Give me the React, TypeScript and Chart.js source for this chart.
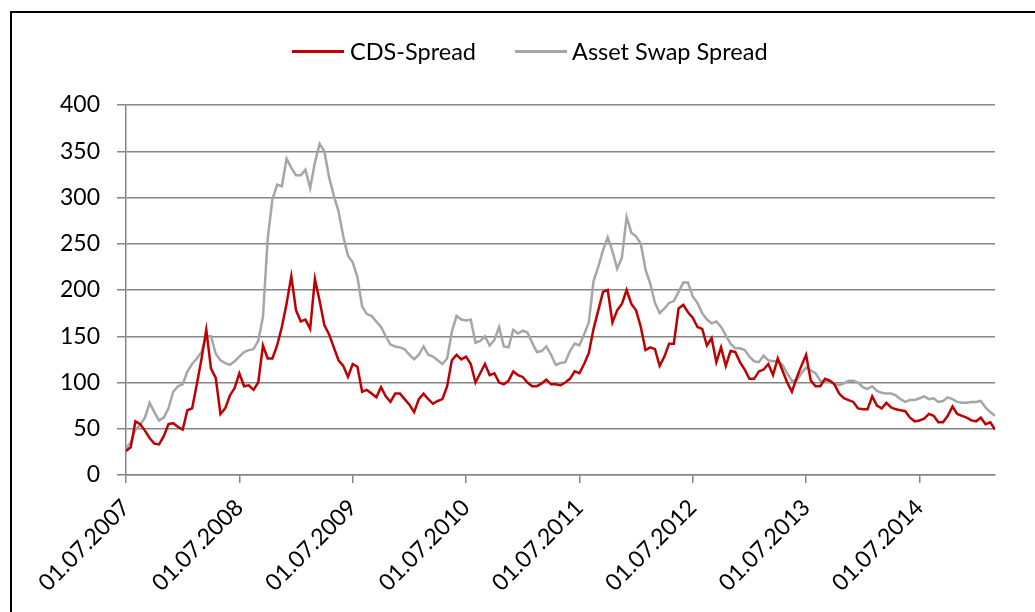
import React, { useEffect, useRef } from "react";
import { Chart, registerables } from "chart.js";

Chart.register(...registerables);

// Series names and colours
const seriesNames = ["CDS-Spread", "Asset Swap Spread"];
const seriesColors = ["#C00000", "#A6A6A6"];

// X-axis tick labels (one per year, at 01.07.)
const yearTickLabels = [
  "01.07.2007",
  "01.07.2008",
  "01.07.2009",
  "01.07.2010",
  "01.07.2011",
  "01.07.2012",
  "01.07.2013",
  "01.07.2014",
];

// Observations are semi-monthly (1st and 16th), starting 01.07.2007
const observationsPerYear = 24;

// CDS spread (bp), semi-monthly from 01.07.2007
const cdsSpread = [
  26, 30, 58, 55, 48, 40, 34, 33, 42, 55, 56, 52,
  49, 70, 72, 98, 126, 157, 115, 105, 66, 72, 86, 94,
  110, 96, 97, 92, 100, 140, 126, 126, 140, 160, 185, 215,
  178, 166, 168, 158, 212, 188, 162, 152, 138, 124, 118, 106,
  120, 117, 90, 92, 88, 84, 95, 85, 79, 88, 88, 82,
  76, 68, 82, 88, 82, 77, 80, 82, 96, 124, 130, 125,
  128, 120, 100, 110, 120, 108, 110, 100, 98, 102, 112, 108,
  106, 100, 96, 96, 99, 103, 98, 98, 97, 100, 104, 112,
  110, 120, 132, 158, 178, 198, 200, 165, 178, 185, 200, 185,
  178, 160, 135, 138, 136, 118, 128, 142, 142, 180, 184, 176,
  170, 160, 158, 140, 148, 122, 138, 118, 134, 133, 122, 114,
  104, 104, 112, 114, 120, 108, 126, 113, 100, 90, 105, 118,
  130, 102, 96, 96, 104, 102, 98, 88, 83, 81, 79, 72,
  71, 71, 85, 75, 72, 78, 73, 71, 70, 69, 62, 58,
  59, 61, 66, 64, 57, 57, 64, 74, 66, 64, 62, 59,
  58, 62, 55, 57, 49,
];

// Asset swap spread (bp), semi-monthly from 01.07.2007
const assetSwapSpread = [
  29, 35, 49, 54, 62, 78, 68, 59, 62, 72, 90, 96,
  98, 112, 120, 126, 133, 150, 150, 131, 124, 121, 119, 123,
  128, 133, 135, 136, 145, 171, 255, 298, 314, 312, 342, 332,
  324, 324, 330, 310, 338, 358, 350, 322, 302, 285, 258, 237,
  230, 214, 182, 174, 172, 166, 160, 150, 141, 139, 138, 136,
  130, 125, 130, 139, 130, 128, 124, 120, 126, 155, 172, 168,
  167, 168, 143, 145, 150, 140, 146, 160, 139, 138, 157, 153,
  156, 154, 143, 133, 134, 139, 130, 119, 121, 122, 134, 142,
  140, 152, 165, 210, 225, 243, 257, 242, 223, 235, 279, 262,
  258, 250, 222, 207, 186, 175, 180, 186, 188, 198, 208, 208,
  193, 186, 175, 168, 164, 166, 160, 151, 142, 137, 137, 135,
  128, 123, 122, 129, 124, 123, 123, 119, 110, 102, 102, 110,
  116, 113, 110, 102, 101, 101, 99, 97, 99, 102, 102, 100,
  95, 93, 96, 91, 89, 88, 88, 86, 82, 79, 81, 81,
  83, 85, 82, 83, 79, 80, 84, 82, 79, 78, 78, 79,
  79, 80, 73, 68, 64,
];

// Y-axis range
const yMin = 0;
const yMax = 400;
const yStep = 50;

const FONT = "Lato, 'Open Sans', sans-serif";
const GRID = "#858585";

export default function App() {
  const canvasRef = useRef<HTMLCanvasElement | null>(null);

  useEffect(() => {
    if (!canvasRef.current) return;
    const toPoints = (arr: number[]) => arr.map((v, i) => ({ x: i, y: v }));
    const chart = new Chart(canvasRef.current, {
      type: "line",
      data: {
        datasets: [
          {
            label: seriesNames[0],
            data: toPoints(cdsSpread),
            borderColor: seriesColors[0],
            backgroundColor: seriesColors[0],
            borderWidth: 2.5,
            pointRadius: 0,
            tension: 0,
          },
          {
            label: seriesNames[1],
            data: toPoints(assetSwapSpread),
            borderColor: seriesColors[1],
            backgroundColor: seriesColors[1],
            borderWidth: 2.5,
            pointRadius: 0,
            tension: 0,
          },
        ],
      },
      options: {
        animation: false,
        responsive: false,
        devicePixelRatio: 1,
        layout: { padding: { left: 0, right: 40, top: 105, bottom: 0 } },
        plugins: {
          legend: { display: false },
          tooltip: { enabled: false },
        },
        scales: {
          x: {
            type: "linear",
            min: 0,
            max: cdsSpread.length - 1,
            afterBuildTicks: (scale: any) => {
              scale.ticks = yearTickLabels.map((_, i) => ({ value: i * observationsPerYear }));
            },
            afterFit: (scale: any) => {
              scale.height = 137;
            },
            ticks: {
              autoSkip: false,
              minRotation: 45,
              maxRotation: 45,
              color: "#000",
              padding: 11,
              font: { family: FONT, size: 23 },
              callback: (value: any) =>
                yearTickLabels[Math.round(Number(value) / observationsPerYear)] ?? "",
            },
            grid: {
              drawOnChartArea: false,
              drawTicks: true,
              tickLength: 8,
              color: GRID,
              lineWidth: 1.5,
            },
            border: { display: true, color: GRID, width: 1.5 },
          },
          y: {
            min: yMin,
            max: yMax,
            afterFit: (scale: any) => {
              scale.width = 126;
            },
            ticks: {
              stepSize: yStep,
              color: "#000",
              padding: 17,
              font: { family: FONT, size: 23 },
            },
            grid: {
              color: GRID,
              lineWidth: 1.5,
              drawTicks: true,
              tickLength: 9,
            },
            border: { display: true, color: GRID, width: 1.5 },
          },
        },
      },
    });
    return () => chart.destroy();
  }, []);

  const legendText: React.CSSProperties = {
    position: "absolute",
    top: 39,
    fontFamily: FONT,
    fontSize: 23.5,
    lineHeight: "24px",
    color: "#000",
    whiteSpace: "nowrap",
  };

  return (
    <div
      style={{
        position: "absolute",
        left: 0,
        top: 0,
        width: 1035,
        height: 612,
        overflow: "hidden",
        background: "#fff",
      }}
    >
      <canvas
        ref={canvasRef}
        width={1035}
        height={612}
        style={{ position: "absolute", left: 0, top: 0, width: 1035, height: 612 }}
      />
      <div
        style={{
          position: "absolute",
          left: 10,
          top: 11,
          width: 1100,
          height: 700,
          border: "2px solid #000",
          pointerEvents: "none",
        }}
      />
      <div style={{ position: "absolute", left: 292, top: 50, width: 52, height: 3, background: seriesColors[0] }} />
      <div style={{ ...legendText, left: 350 }}>{seriesNames[0]}</div>
      <div style={{ position: "absolute", left: 515, top: 50, width: 52, height: 3, background: seriesColors[1] }} />
      <div style={{ ...legendText, left: 572 }}>{seriesNames[1]}</div>
    </div>
  );
}
